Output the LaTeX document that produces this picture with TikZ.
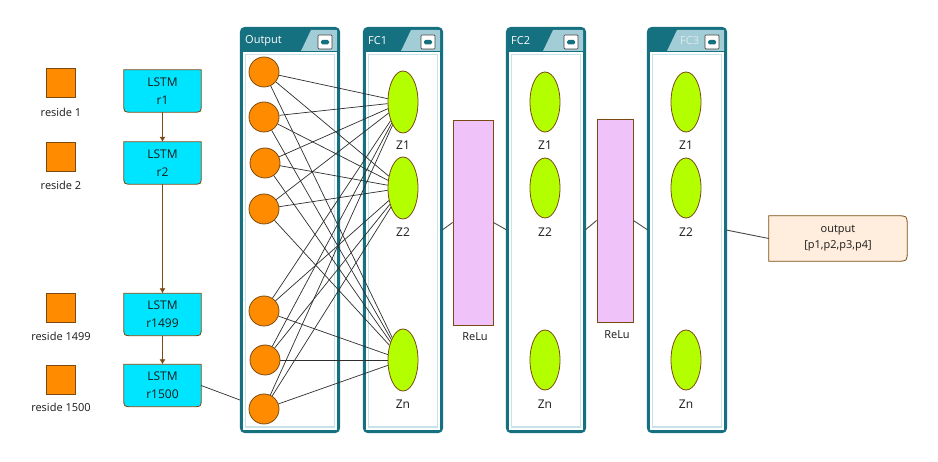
\documentclass[tikz,border=0pt]{standalone}
\usepackage{fontspec}
\setmainfont{Open Sans}
\usetikzlibrary{shapes.geometric,arrows.meta,calc}
\pgfdeclarelayer{back}
\pgfdeclarelayer{bg}
\pgfdeclarelayer{panel}
\pgfdeclarelayer{edge}
\pgfsetlayers{back,bg,panel,edge,main}
\definecolor{brownline}{HTML}{7B4A12}
\definecolor{orangefill}{HTML}{FF8C00}
\definecolor{cyanfill}{HTML}{00E5FF}
\definecolor{greenfill}{HTML}{B3FF00}
\definecolor{violetfill}{HTML}{EFC2FA}
\definecolor{peachfill}{HTML}{FFEEDD}
\definecolor{pdark}{HTML}{15707F}
\definecolor{plight}{HTML}{A3CDD6}
\definecolor{pinner}{HTML}{C8E3E8}
\definecolor{textgray}{HTML}{1A1A1A}
\newcommand\lstmshape[1]{%
  \filldraw[fill=cyanfill, draw=brownline, line width=0.8pt]
    (#1.north west) -- (#1.north east) -- ([yshift=8pt]#1.south east)
    .. controls (#1.south east) .. ([xshift=-8pt]#1.south east)
    -- ([xshift=8pt]#1.south west)
    .. controls (#1.south west) .. ([yshift=8pt]#1.south west) -- cycle;}
\newcommand\nnpanel[6]{%
  % #1 name, #2 left, #3 right, #4 slant x, #5 title, #6 title colour
  \node[inner sep=0pt, minimum width={(#3-#2)*1pt}, minimum height=404pt] (#1) at ({(#2+#3)/2},230) {};
  \fill[pdark, rounded corners=4pt] (#2,28) rectangle (#3,432);
  \fill[plight] (#4,51) -- (#4+10,30) -- (#3-2,30) -- (#3-2,51) -- cycle;
  \fill[white] (#2+2,52) rectangle (#3-2,430);
  \draw[pinner, line width=1.6pt] (#2+4.5,54.5) rectangle (#3-4.5,427);
  \draw[pdark, line width=2.2pt, rounded corners=4pt] (#2,28) rectangle (#3,432);
  \draw[fill=white, draw=black!75, line width=0.7pt, rounded corners=1pt] (#3-21,35) rectangle (#3-7,49);
  \fill[pdark, rounded corners=1.5pt] (#3-18,44.5) rectangle (#3-10,40);
  \node[anchor=west, inner sep=0pt, text=#6, font=\fontsize{11}{12}\selectfont] (#1title) at (#2+4,41) {#5};
}
\begin{document}
\begin{tikzpicture}[x=1pt, y=-1pt,
  lbl/.style={font=\fontsize{11}{13}\selectfont, text=textgray, inner sep=0pt},
  zlbl/.style={font=\fontsize{12}{14}\selectfont, text=textgray, inner sep=0pt},
  sq/.style={draw=brownline, fill=orangefill, line width=0.8pt, minimum size=29pt, inner sep=0pt},
  lstm/.style={minimum width=77pt, minimum height=42pt, inner sep=0pt, align=center,
    font=\fontsize{12}{18}\selectfont, text=textgray},
  flow/.style={draw=brownline, line width=0.8pt, -{Latex[length=5pt,width=6pt]}},
  neuron/.style={circle, draw=brownline, fill=orangefill, line width=0.8pt, minimum size=30pt, inner sep=0pt},
  zell/.style={ellipse, draw=brownline, fill=greenfill, line width=0.8pt, minimum width=30pt, minimum height=60pt, inner sep=0pt},
  relubox/.style={draw=brownline, fill=violetfill, line width=0.8pt, inner sep=0pt},
  wire/.style={draw=black!82, line width=0.7pt},
  link/.style={draw=black!70, line width=0.9pt}]

\begin{pgfonlayer}{back}
  \fill[white] (0,0) rectangle (938,462);
\end{pgfonlayer}

% inputs
\node[sq] (s1) at (61,83) {};
\node[sq] (s2) at (61,157) {};
\node[sq] (s3) at (61,308) {};
\node[sq] (s4) at (61,380) {};
\node[lbl] (ls1) at (61,112) {reside 1};
\node[lbl] (ls2) at (61,185) {reside 2};
\node[lbl] (ls3) at (61,336) {reside 1499};
\node[lbl] (ls4) at (61,407) {reside 1500};

% LSTM cells
\node[lstm] (r1) at (162.5,91) {LSTM\\r1};
\node[lstm] (r2) at (162.5,163) {LSTM\\r2};
\node[lstm] (r1499) at (162.5,314.5) {LSTM\\r1499};
\node[lstm] (r1500) at (162.5,385.5) {LSTM\\r1500};
\begin{pgfonlayer}{bg}
  \lstmshape{r1}
  \lstmshape{r2}
  \lstmshape{r1499}
  \lstmshape{r1500}
\end{pgfonlayer}
\draw[flow] (r1) -- (r2);
\draw[flow] (r2) -- (r1499);
\draw[flow] (r1499) -- (r1500);

% panels
\begin{pgfonlayer}{panel}
  \nnpanel{pout}{241}{339}{301}{Output}{white}
  \nnpanel{pfc1}{364}{442}{401}{FC1}{white}
  \nnpanel{pfc2}{507}{585}{543}{FC2}{white}
  \nnpanel{pfc3}{648}{726}{667}{\hspace*{28pt}FC3}{white!85!pdark}
\end{pgfonlayer}

% output layer neurons
\node[neuron] (o1) at (264,72) {};
\node[neuron] (o2) at (264,117) {};
\node[neuron] (o3) at (265,163) {};
\node[neuron] (o4) at (264,209) {};
\node[neuron] (o5) at (264,311) {};
\node[neuron] (o6) at (265,360) {};
\node[neuron] (o7) at (264,409) {};

% FC layers
\node[zell, minimum height=62pt] (z11) at (403,102) {};
\node[zell, minimum height=62pt] (z12) at (403,188) {};
\node[zell, minimum height=62pt] (z1n) at (403,360) {};
\node[zell] (z21) at (545,102) {};
\node[zell] (z22) at (545,188) {};
\node[zell] (z2n) at (545,360) {};
\node[zell] (z31) at (686,102) {};
\node[zell] (z32) at (686,188) {};
\node[zell] (z3n) at (686,360) {};
\node[zlbl] (lz11) at (403,145) {Z1};
\node[zlbl] (lz12) at (403,232) {Z2};
\node[zlbl] (lz1n) at (403,404) {Zn};
\node[zlbl] (lz21) at (545,145) {Z1};
\node[zlbl] (lz22) at (545,232) {Z2};
\node[zlbl] (lz2n) at (545,404) {Zn};
\node[zlbl] (lz31) at (686,145) {Z1};
\node[zlbl] (lz32) at (686,232) {Z2};
\node[zlbl] (lz3n) at (686,404) {Zn};

% dense connections
\begin{pgfonlayer}{edge}
  \foreach \i in {1,...,7} {
    \foreach \j in {1,2,n} {
      \draw[wire] (o\i) -- (z1\j);
    }
  }
\end{pgfonlayer}

% ReLu blocks
\node[relubox, minimum width=40pt, minimum height=205pt] (relu1) at (473,222.5) {};
\node[relubox, minimum width=36pt, minimum height=203pt] (relu2) at (615,220.5) {};
\node[lbl] (lrelu1) at (475,337) {ReLu};
\node[lbl] (lrelu2) at (617,335) {ReLu};

% final output
\node[minimum width=138pt, minimum height=45pt, inner sep=0pt, align=center,
  font=\fontsize{11}{16}\selectfont, text=textgray] (res) at (838,238.5) {output\\{[p1,p2,p3,p4]}};
\begin{pgfonlayer}{bg}
  \filldraw[fill=peachfill, draw=brownline, line width=0.8pt]
    (res.north west) -- ([xshift=-10pt]res.north east)
    .. controls (res.north east) .. ([yshift=-10pt]res.north east)
    -- ([yshift=10pt]res.south east)
    .. controls (res.south east) .. ([xshift=-10pt]res.south east)
    -- (res.south west) -- cycle;
  \draw[wire] (r1500.east) -- (o7);
\end{pgfonlayer}

% layer links
\draw[link] (pfc1.east) -- (relu1.west);
\draw[link] (relu1.east) -- (pfc2.west);
\draw[link] (pfc2.east) -- (relu2.west);
\draw[link] (relu2.east) -- (pfc3.west);
\draw[link] (pfc3.east) -- (res.west);
\end{tikzpicture}
\end{document}
